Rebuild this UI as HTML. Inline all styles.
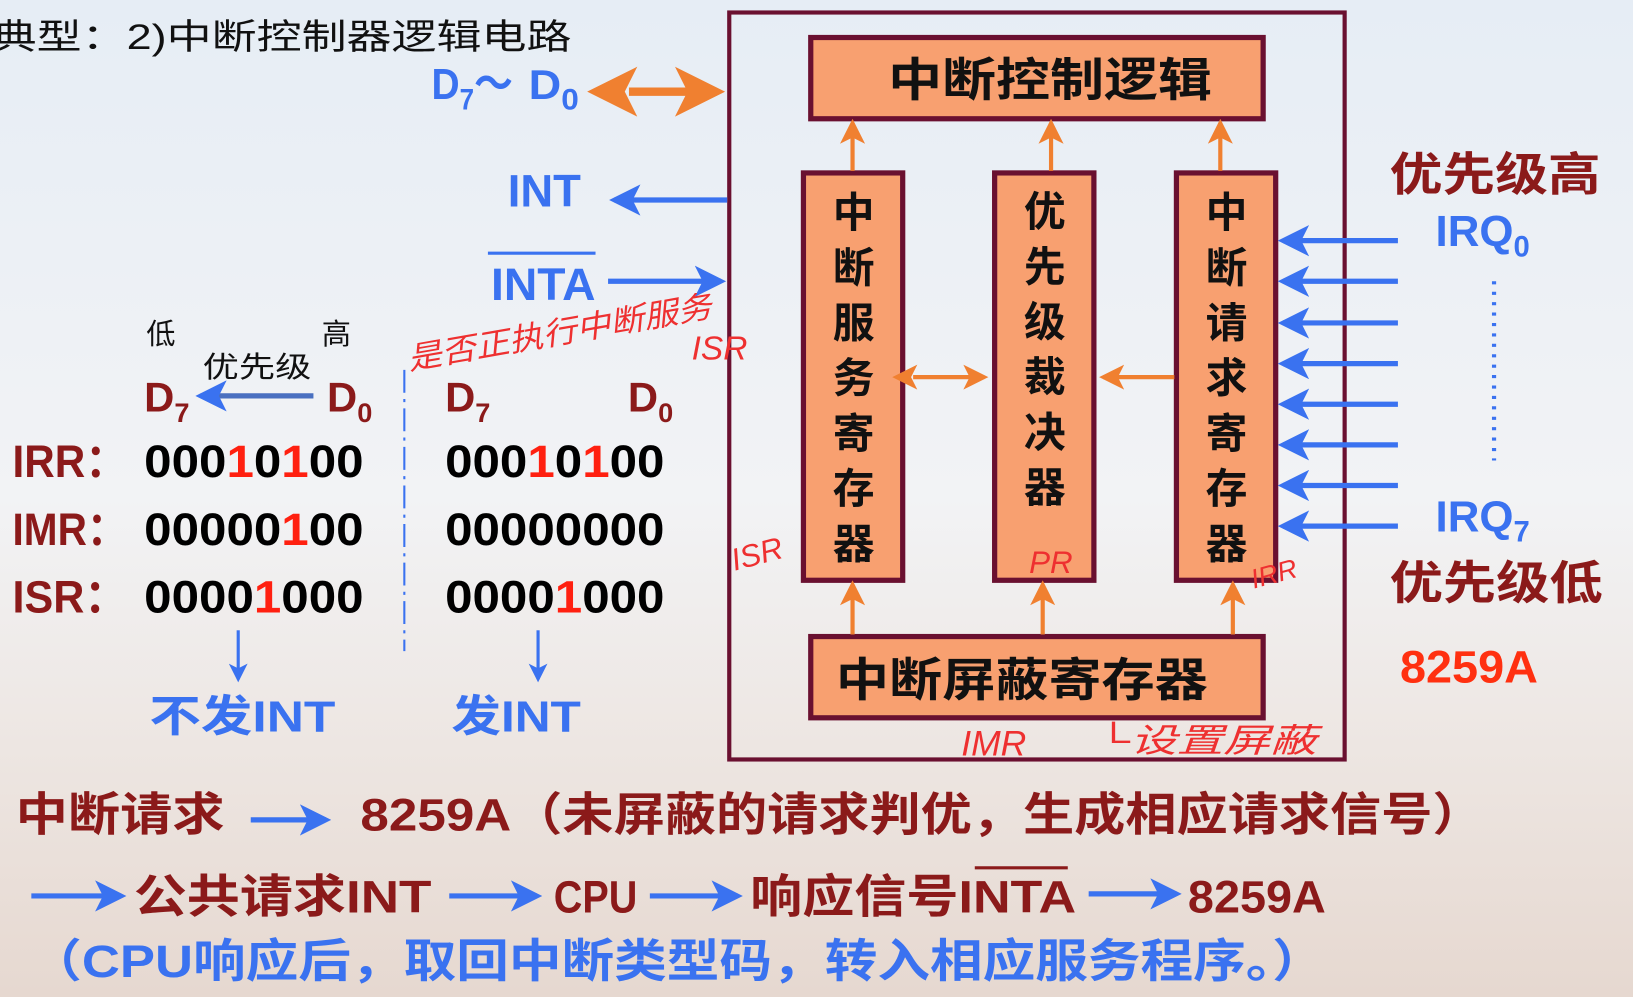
<!DOCTYPE html>
<html><head><meta charset="utf-8"><style>
html,body{margin:0;padding:0;width:1633px;height:997px;overflow:hidden;background:#eef1f4}
svg{display:block}
text{font-family:"Liberation Sans","Noto Sans CJK SC",sans-serif}
</style></head><body>
<svg width="1633" height="997" viewBox="0 0 1563 957" preserveAspectRatio="none" xmlns="http://www.w3.org/2000/svg">
<defs>
<linearGradient id="bg" x1="0" y1="0" x2="0" y2="1">
<stop offset="0" stop-color="#e6edf5"/><stop offset="0.5" stop-color="#f2f3f5"/><stop offset="0.75" stop-color="#ede6e2"/><stop offset="1" stop-color="#e6d8d0"/>
</linearGradient>
<marker id="ab" markerWidth="6" markerHeight="6" refX="5" refY="3" orient="auto" markerUnits="strokeWidth"><path d="M0,0 L6,3 L0,6 L1.5,3z" fill="#3a72f0"/></marker>
<marker id="ao" markerWidth="6" markerHeight="6" refX="5" refY="3" orient="auto" markerUnits="strokeWidth"><path d="M0,0 L6,3 L0,6 L1.5,3z" fill="#f08030"/></marker>
<marker id="aos" markerWidth="6" markerHeight="6" refX="1" refY="3" orient="auto-start-reverse" markerUnits="strokeWidth"><path d="M0,0 L6,3 L0,6 L1.5,3z" fill="#f08030"/></marker>
</defs>
<rect width="1563" height="957" fill="url(#bg)"/>
<text x="-8" y="47" font-size="34" fill="#111" textLength="555" lengthAdjust="spacingAndGlyphs">典型：2)中断控制器逻辑电路</text>
<rect x="698" y="12" width="589" height="717" fill="none" stroke="#6a1030" stroke-width="4"/>
<g fill="#f8a070" stroke="#6a1030" stroke-width="5">
<rect x="776" y="36" width="433" height="78"/>
<rect x="769" y="166" width="95" height="391"/>
<rect x="952" y="166" width="95" height="391"/>
<rect x="1126" y="166" width="95" height="391"/>
<rect x="776" y="611" width="433" height="78"/>
</g>
<g font-size="44" fill="#111" font-weight="bold">
<text x="850" y="92" textLength="310" lengthAdjust="spacingAndGlyphs">中断控制逻辑</text>
<text x="800" y="668" textLength="356" lengthAdjust="spacingAndGlyphs">中断屏蔽寄存器</text>
</g>
<g font-size="40" fill="#111" font-weight="bold" text-anchor="middle">
<text x="817" y="218">中</text><text x="817" y="271">断</text><text x="817" y="324">服</text><text x="817" y="377">务</text><text x="817" y="430">寄</text><text x="817" y="483">存</text><text x="817" y="536">器</text>
<text x="1000" y="217">优</text><text x="1000" y="270">先</text><text x="1000" y="323">级</text><text x="1000" y="376">裁</text><text x="1000" y="429">决</text><text x="1000" y="482">器</text>
<text x="1174" y="218">中</text><text x="1174" y="271">断</text><text x="1174" y="324">请</text><text x="1174" y="377">求</text><text x="1174" y="430">寄</text><text x="1174" y="483">存</text><text x="1174" y="536">器</text>
</g>
<g stroke="#f08030" stroke-width="4" fill="none">
<line x1="816" y1="164" x2="816" y2="118" marker-end="url(#ao)"/>
<line x1="1006" y1="164" x2="1006" y2="118" marker-end="url(#ao)"/>
<line x1="1168" y1="164" x2="1168" y2="118" marker-end="url(#ao)"/>
<line x1="816" y1="609" x2="816" y2="561" marker-end="url(#ao)"/>
<line x1="998" y1="609" x2="998" y2="561" marker-end="url(#ao)"/>
<line x1="1180" y1="609" x2="1180" y2="561" marker-end="url(#ao)"/>
<line x1="874" y1="362" x2="942" y2="362" marker-start="url(#aos)" marker-end="url(#ao)"/>
<line x1="1124" y1="362" x2="1056" y2="362" marker-end="url(#ao)"/>
<line x1="602" y1="88" x2="686" y2="88" stroke-width="8" marker-start="url(#aos)" marker-end="url(#ao)"/>
</g>
<g fill="#3a72f0" font-weight="bold">
<text x="413" y="95" font-size="42" textLength="78" lengthAdjust="spacingAndGlyphs">D<tspan font-size="28" dy="10">7</tspan><tspan dy="-10">～</tspan></text>
<text x="506" y="95" font-size="40" textLength="48" lengthAdjust="spacingAndGlyphs">D<tspan font-size="28" dy="10">0</tspan></text>
<text x="486" y="198" font-size="44" textLength="70" lengthAdjust="spacingAndGlyphs">INT</text>
<text x="470" y="288" font-size="44" textLength="100" lengthAdjust="spacingAndGlyphs">INTA</text>
<text x="1374" y="236" font-size="42">IRQ<tspan font-size="28" dy="10">0</tspan></text>
<text x="1374" y="510" font-size="42">IRQ<tspan font-size="28" dy="10">7</tspan></text>
<text x="143" y="702" font-size="42" textLength="178" lengthAdjust="spacingAndGlyphs">不发INT</text>
<text x="432" y="702" font-size="42" textLength="124" lengthAdjust="spacingAndGlyphs">发INT</text>
</g>
<line x1="467" y1="243" x2="570" y2="243" stroke="#3a72f0" stroke-width="3"/>
<g stroke="#3a72f0" stroke-width="5" fill="none">
<line x1="696" y1="192" x2="588" y2="192" marker-end="url(#ab)"/>
<line x1="582" y1="270" x2="690" y2="270" marker-end="url(#ab)"/>
<line x1="1338" y1="231" x2="1228" y2="231" marker-end="url(#ab)"/>
<line x1="1338" y1="270" x2="1228" y2="270" marker-end="url(#ab)"/>
<line x1="1338" y1="310" x2="1228" y2="310" marker-end="url(#ab)"/>
<line x1="1338" y1="349" x2="1228" y2="349" marker-end="url(#ab)"/>
<line x1="1338" y1="388" x2="1228" y2="388" marker-end="url(#ab)"/>
<line x1="1338" y1="427" x2="1228" y2="427" marker-end="url(#ab)"/>
<line x1="1338" y1="466" x2="1228" y2="466" marker-end="url(#ab)"/>
<line x1="1338" y1="505" x2="1228" y2="505" marker-end="url(#ab)"/>
<line x1="300" y1="380" x2="192" y2="380" stroke="#4a70c0" marker-end="url(#ab)"/>
<line x1="228" y1="605" x2="228" y2="652" stroke-width="3" marker-end="url(#ab)"/>
<line x1="515" y1="605" x2="515" y2="652" stroke-width="3" marker-end="url(#ab)"/>
</g>
<line x1="1430" y1="270" x2="1430" y2="442" stroke="#3a72f0" stroke-width="4" stroke-dasharray="3,7"/>
<line x1="387" y1="355" x2="387" y2="625" stroke="#3a72f0" stroke-width="2" stroke-dasharray="22,6,3,6"/>
<g fill="#8b1a1a" font-weight="bold">
<text x="1330" y="183" font-size="44" textLength="202" lengthAdjust="spacingAndGlyphs">优先级高</text>
<text x="1330" y="575" font-size="44" textLength="204" lengthAdjust="spacingAndGlyphs">优先级低</text>
<text x="138" y="395" font-size="40">D<tspan font-size="26" dy="10">7</tspan></text>
<text x="313" y="395" font-size="40">D<tspan font-size="26" dy="10">0</tspan></text>
<text x="426" y="395" font-size="40">D<tspan font-size="26" dy="10">7</tspan></text>
<text x="601" y="395" font-size="40">D<tspan font-size="26" dy="10">0</tspan></text>
<text x="12" y="458" font-size="44" textLength="110" lengthAdjust="spacingAndGlyphs">IRR：</text>
<text x="12" y="523" font-size="44" textLength="110" lengthAdjust="spacingAndGlyphs">IMR：</text>
<text x="12" y="588" font-size="44" textLength="110" lengthAdjust="spacingAndGlyphs">ISR：</text>
</g>
<text x="1340" y="655" font-size="44" font-weight="bold" fill="#ff3010" textLength="132" lengthAdjust="spacingAndGlyphs">8259A</text>
<g font-size="28" fill="#111">
<text x="140" y="330">低</text><text x="308" y="330">高</text>
<text x="194" y="362" textLength="104" lengthAdjust="spacingAndGlyphs">优先级</text>
</g>
<g font-size="44" font-weight="bold" fill="#000">
<text x="138" y="458" textLength="210" lengthAdjust="spacingAndGlyphs">000<tspan fill="#ff2010">1</tspan>0<tspan fill="#ff2010">1</tspan>00</text>
<text x="138" y="523" textLength="210" lengthAdjust="spacingAndGlyphs">00000<tspan fill="#ff2010">1</tspan>00</text>
<text x="138" y="588" textLength="210" lengthAdjust="spacingAndGlyphs">0000<tspan fill="#ff2010">1</tspan>000</text>
<text x="426" y="458" textLength="210" lengthAdjust="spacingAndGlyphs">000<tspan fill="#ff2010">1</tspan>0<tspan fill="#ff2010">1</tspan>00</text>
<text x="426" y="523" textLength="210" lengthAdjust="spacingAndGlyphs">00000000</text>
<text x="426" y="588" textLength="210" lengthAdjust="spacingAndGlyphs">0000<tspan fill="#ff2010">1</tspan>000</text>
</g>
<g fill="#ee3030" font-style="italic" font-size="30">
<text x="392" y="355" transform="rotate(-10 392 355)" textLength="295" lengthAdjust="spacingAndGlyphs">是否正执行中断服务</text>
<text x="662" y="345" font-size="32">ISR</text>
<text x="703" y="548" transform="rotate(-15 703 548)">ISR</text>
<text x="985" y="550">PR</text>
<text x="1200" y="565" font-size="26" transform="rotate(-15 1200 565)">IRR</text>
<text x="920" y="725" font-size="34">IMR</text>
<text x="1050" y="722" font-size="32" textLength="210" lengthAdjust="spacingAndGlyphs">└设置屏蔽</text>
</g>
<g font-size="44" font-weight="bold" fill="#8b1a1a">
<text x="15" y="797" textLength="200" lengthAdjust="spacingAndGlyphs">中断请求</text>
<text x="345" y="797" textLength="1075" lengthAdjust="spacingAndGlyphs">8259A（未屏蔽的请求判优，生成相应请求信号）</text>
<text x="128" y="876" textLength="285" lengthAdjust="spacingAndGlyphs">公共请求INT</text>
<text x="530" y="876" font-weight="bold" textLength="80" lengthAdjust="spacingAndGlyphs">CPU</text>
<text x="718" y="876" textLength="312" lengthAdjust="spacingAndGlyphs">响应信号INTA</text>
<text x="1137" y="876" textLength="132" lengthAdjust="spacingAndGlyphs">8259A</text>
</g>
<line x1="933" y1="833" x2="1022" y2="833" stroke="#8b1a1a" stroke-width="3"/>
<text x="28" y="938" font-size="44" font-weight="bold" fill="#3a72f0" textLength="1240" lengthAdjust="spacingAndGlyphs">（CPU响应后，取回中断类型码，转入相应服务程序。）</text>
<g stroke="#3a72f0" stroke-width="5" fill="none">
<line x1="240" y1="787" x2="312" y2="787" marker-end="url(#ab)"/>
<line x1="30" y1="860" x2="116" y2="860" marker-end="url(#ab)"/>
<line x1="430" y1="860" x2="514" y2="860" marker-end="url(#ab)"/>
<line x1="622" y1="860" x2="706" y2="860" marker-end="url(#ab)"/>
<line x1="1042" y1="858" x2="1126" y2="858" marker-end="url(#ab)"/>
</g>
</svg>
</body></html>
